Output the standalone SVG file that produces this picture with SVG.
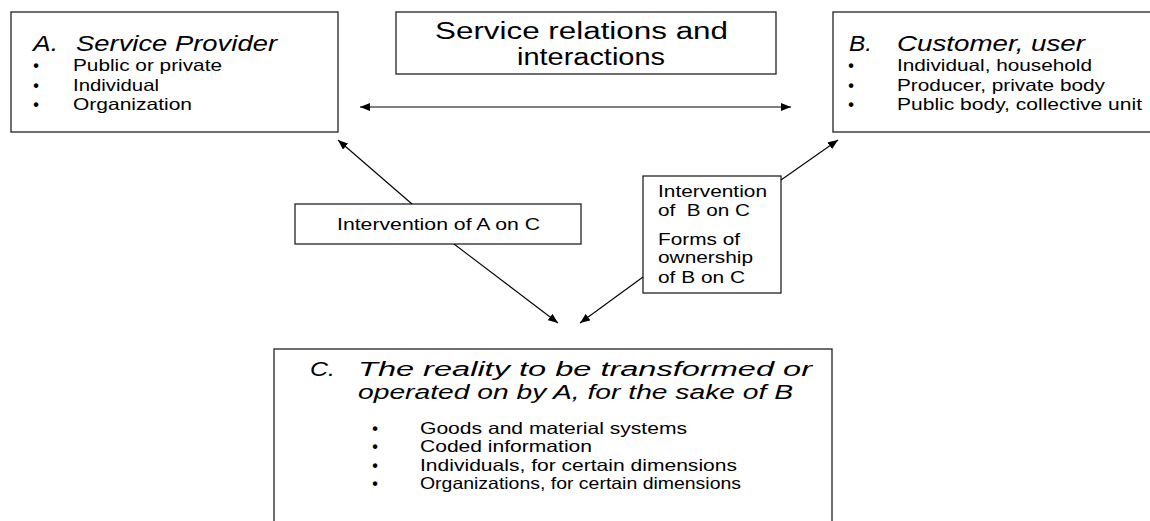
<svg xmlns="http://www.w3.org/2000/svg" width="1150" height="521" viewBox="0 0 1150 521">
  <defs>
    <style>
      .box { fill: #ffffff; stroke: #222222; stroke-width: 1.3; }
      .t { font-family: "Liberation Sans", Arial, sans-serif; fill: #000000; }
      .ttl { font-size: 22px; font-style: italic; }
      .ttl-c { font-size: 20.5px; font-style: italic; }
      .mid { font-size: 23.5px; }
      .li { font-size: 16.5px; }
      .dot { font-size: 16px; font-weight: bold; }
      .lbl { font-size: 16.5px; }
      .pre { white-space: pre; }
      .conn { stroke: #000000; stroke-width: 1.1; fill: none; }
    </style>
    <marker id="arrow" viewBox="0 0 10 8" refX="10" refY="4" markerWidth="10" markerHeight="8" markerUnits="userSpaceOnUse" orient="auto-start-reverse">
      <path d="M0,0 L10,4 L0,8 Z" fill="#000000"/>
    </marker>
  </defs>

  <rect width="1150" height="521" fill="#ffffff"/>

  <!-- A: service provider -->
  <g id="node-a">
    <rect class="box" x="11" y="12" width="327" height="120"/>
    <text class="t ttl" x="33" y="51" textLength="25" lengthAdjust="spacingAndGlyphs">A.</text>
    <text class="t ttl" x="76" y="51" textLength="201" lengthAdjust="spacingAndGlyphs">Service Provider</text>
    <text class="t dot" x="36" y="71" text-anchor="middle">•</text>
    <text class="t li" x="73" y="71" textLength="149" lengthAdjust="spacingAndGlyphs">Public or private</text>
    <text class="t dot" x="36" y="91" text-anchor="middle">•</text>
    <text class="t li" x="73" y="91" textLength="86" lengthAdjust="spacingAndGlyphs">Individual</text>
    <text class="t dot" x="36" y="110" text-anchor="middle">•</text>
    <text class="t li" x="73" y="110" textLength="119" lengthAdjust="spacingAndGlyphs">Organization</text>
  </g>

  <!-- Service relations heading -->
  <g id="node-relations">
    <rect class="box" x="396" y="12" width="380" height="62"/>
    <text class="t mid" x="435" y="39" textLength="293" lengthAdjust="spacingAndGlyphs">Service relations and</text>
    <text class="t mid" x="517" y="65" textLength="148" lengthAdjust="spacingAndGlyphs">interactions</text>
  </g>

  <!-- B: customer, user -->
  <g id="node-b">
    <rect class="box" x="833" y="12" width="322" height="120"/>
    <text class="t ttl" x="849" y="51" textLength="23" lengthAdjust="spacingAndGlyphs">B.</text>
    <text class="t ttl" x="897" y="51" textLength="188" lengthAdjust="spacingAndGlyphs">Customer, user</text>
    <text class="t dot" x="851" y="71" text-anchor="middle">•</text>
    <text class="t li" x="897" y="71" textLength="195" lengthAdjust="spacingAndGlyphs">Individual, household</text>
    <text class="t dot" x="851" y="91" text-anchor="middle">•</text>
    <text class="t li" x="897" y="91" textLength="208" lengthAdjust="spacingAndGlyphs">Producer, private body</text>
    <text class="t dot" x="851" y="110" text-anchor="middle">•</text>
    <text class="t li" x="897" y="110" textLength="245" lengthAdjust="spacingAndGlyphs">Public body, collective unit</text>
  </g>

  <!-- Intervention of A on C -->
  <g id="label-a">
    <rect class="box" x="295" y="204" width="286" height="40"/>
    <text class="t lbl" x="337" y="230" textLength="203" lengthAdjust="spacingAndGlyphs">Intervention of A on C</text>
  </g>

  <!-- Intervention / ownership of B on C -->
  <g id="label-b">
    <rect class="box" x="643" y="176" width="138" height="117"/>
    <text class="t lbl" x="658" y="197" textLength="109" lengthAdjust="spacingAndGlyphs">Intervention</text>
    <text class="t lbl pre" x="658" y="216" textLength="92" lengthAdjust="spacingAndGlyphs">of  B on C</text>
    <text class="t lbl" x="658" y="245" textLength="82" lengthAdjust="spacingAndGlyphs">Forms of</text>
    <text class="t lbl" x="658" y="263" textLength="95" lengthAdjust="spacingAndGlyphs">ownership</text>
    <text class="t lbl" x="658" y="283" textLength="87" lengthAdjust="spacingAndGlyphs">of B on C</text>
  </g>

  <!-- C: the reality operated on -->
  <g id="node-c">
    <rect class="box" x="274" y="349" width="558" height="190"/>
    <text class="t ttl-c" x="310" y="376" textLength="25" lengthAdjust="spacingAndGlyphs">C.</text>
    <text class="t ttl-c" x="358" y="376" textLength="454" lengthAdjust="spacingAndGlyphs">The reality to be transformed or</text>
    <text class="t ttl-c" x="358" y="399" textLength="435" lengthAdjust="spacingAndGlyphs">operated on by A, for the sake of B</text>
    <text class="t dot" x="375" y="434" text-anchor="middle">•</text>
    <text class="t li" x="420" y="434" textLength="267" lengthAdjust="spacingAndGlyphs">Goods and material systems</text>
    <text class="t dot" x="375" y="452" text-anchor="middle">•</text>
    <text class="t li" x="420" y="452" textLength="172" lengthAdjust="spacingAndGlyphs">Coded information</text>
    <text class="t dot" x="375" y="471" text-anchor="middle">•</text>
    <text class="t li" x="420" y="471" textLength="317" lengthAdjust="spacingAndGlyphs">Individuals, for certain dimensions</text>
    <text class="t dot" x="375" y="489" text-anchor="middle">•</text>
    <text class="t li" x="420" y="489" textLength="321" lengthAdjust="spacingAndGlyphs">Organizations, for certain dimensions</text>
  </g>

  <!-- connectors -->
  <g id="connectors">
    <line class="conn" x1="360" y1="107" x2="791" y2="107" marker-start="url(#arrow)" marker-end="url(#arrow)"/>
    <line class="conn" x1="412" y1="204" x2="338" y2="140" marker-end="url(#arrow)"/>
    <line class="conn" x1="454" y1="244" x2="558" y2="323" marker-end="url(#arrow)"/>
    <line class="conn" x1="781" y1="180" x2="838" y2="140" marker-end="url(#arrow)"/>
    <line class="conn" x1="643" y1="277" x2="580" y2="323" marker-end="url(#arrow)"/>
  </g>
</svg>
